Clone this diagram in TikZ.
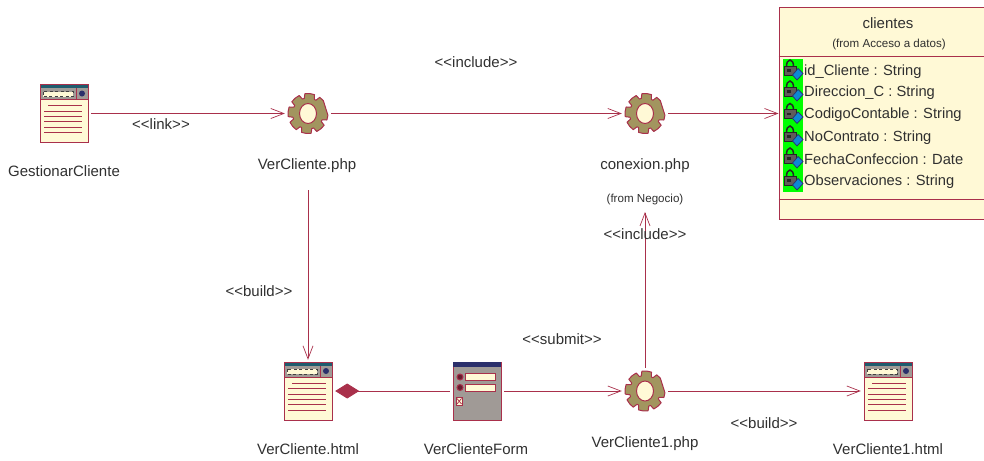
\documentclass[tikz,border=0pt]{standalone}
\usepackage{fontspec}
\setmainfont{Liberation Sans}
\usetikzlibrary{arrows.meta,positioning}
\definecolor{umlred}{HTML}{A9304B}
\definecolor{umlcream}{HTML}{FFF9D6}
\definecolor{umlolive}{HTML}{A2955F}
\definecolor{umlteal}{HTML}{1F5C6E}
\definecolor{umlnavy}{HTML}{2B2F6B}
\definecolor{umlgrey}{HTML}{A09A96}
\definecolor{umltext}{HTML}{303030}
\begin{document}
\begin{tikzpicture}[
    x=1pt, y=-1pt,
    element/.style={rectangle, inner sep=0pt, minimum width=54pt, minimum height=62pt},
    gearbox/.style={circle, inner sep=0pt, minimum size=46pt},
    name label/.style={inner sep=0pt, text=umltext, font=\fontsize{15}{17}\selectfont},
    attr label/.style={inner sep=0pt, text=umltext, font=\fontsize{14.7}{17}\selectfont},
    small label/.style={inner sep=0pt, text=umltext, font=\fontsize{11.6}{13}\selectfont},
    stereotype/.style={inner sep=0pt, text=umltext, font=\fontsize{15}{17}\selectfont},
    depend/.style={-{Straight Barb[length=13pt,width=10pt]}, umlred, line width=0.7pt},
    aggreg/.style={{Diamond[length=24pt,width=15pt]}-, umlred, line width=0.9pt},
    pics/gearicon/.style={code={
        \path[draw=umlred, fill=umlolive, line width=1pt, line join=round]
            (5:20)
            \foreach \a in {50,95,140,185,230,275,320} {
                -- (\a-31:20) -- (\a-26:15.5) -- (\a-19:15.5) -- (\a-14:20) -- (\a:20)
            } -- (5:20) -- cycle;
        \path[draw=umlred, fill=umlcream, line width=1pt] (0,0) ellipse (8.5 and 10);
    }},
    pics/pageicon/.style={code={
        \path[draw=umlred, fill=umlcream, line width=1pt] (-24,-29) rectangle (24,29);
        \path[fill=umlteal] (-23.5,-28.5) rectangle (23.5,-25.5);
        \path[fill=umlgrey] (-23.5,-25.5) rectangle (23.5,-14);
        \path[fill=umlcream, draw=black!75, line width=0.8pt, dash pattern=on 3pt off 2.5pt] (-21,-22) rectangle (9,-17);
        \path[draw=umlred, line width=0.7pt] (12,-25.5) -- (12,-14) (-24,-14) -- (24,-14);
        \path[fill=umlnavy] (18,-20) circle (3);
        \path[draw=umlred, line width=0.9pt] (-16,-8) -- (18,-8) (-20,-2.5) -- (18,-2.5)
            (-20,3) -- (18,3) (-20,8) -- (18,8) (-20,13.5) -- (18,13.5) (-20,19) -- (18,19);
    }},
    pics/formicon/.style={code={
        \path[draw=umlred, fill=umlgrey, line width=1pt] (-24,-29) rectangle (24,29);
        \path[fill=umlnavy] (-24,-29) rectangle (24,-24);
        \foreach \y in {-14,-3.5} {
            \path[draw=umlred, fill=umlred!60!black, line width=1pt] (-17,\y) circle (3);
            \path[draw=umlred, fill=umlcream, line width=1pt] (-11.5,\y-3.5) rectangle (18,\y+3.5);
        }
        \path[draw=umlred, fill=umlcream, line width=1pt] (-21,6.5) rectangle (-14.5,14);
        \path[draw=umlred, line width=0.7pt] (-20,7.5) -- (-15.5,13) (-15.5,7.5) -- (-20,13);
    }},
    pics/lockicon/.style={code={
        \path[draw=black!85, line width=1.5pt] (-3.5,0) arc (180:360:3.5 and 6);
        \path[draw=black!85, fill=umlgrey!60!black, line width=0.9pt] (-6,0) rectangle (6,9);
        \path[fill=black!85] (-3,3) rectangle (1,5.5);
        \path[draw=umlnavy, fill=cyan!70!blue, line width=0.7pt] (8,2.5) -- (13,7.5) -- (7,14) -- (2.5,9) -- cycle;
    }}
]
\useasboundingbox (0,0) rectangle (984,460);

% Class box
\node[rectangle, inner sep=0pt, minimum width=212pt, minimum height=211pt,
      draw=umlred, fill=umlcream, line width=1pt] (clientes) at (885,113.5) {};
\draw[umlred, line width=0.8pt] (clientes.west |- 0,56) -- (clientes.east |- 0,56);
\draw[umlred, line width=0.8pt] (clientes.west |- 0,199) -- (clientes.east |- 0,199);
\node[name label] (clientesName) at (888,23) {clientes};
\node[small label] (clientesFrom) at (889,44) {(from Acceso a datos)};
\fill[green] (783,59) rectangle (803,192);
\foreach \y/\attr in {70/id\_Cliente : String, 91/Direccion\_C : String, 113.5/CodigoContable : String,
                      136/NoContrato : String, 158/FechaConfeccion : Date, 180/Observaciones : String} {
    \pic at (790,\y-4) {lockicon};
    \node[attr label, anchor=west] at (804,\y+1.5) {\attr};
}

% Elements
\node[element] (GestionarCliente) at (64,113.5) {};
\node[gearbox] (VerClientePhp) at (308,113.5) {};
\node[gearbox] (conexionPhp) at (645,113.5) {};
\node[element] (VerClienteHtml) at (308,391) {};
\node[element] (VerClienteForm) at (477,391) {};
\node[gearbox] (VerCliente1Php) at (645,391) {};
\node[element] (VerCliente1Html) at (888,391) {};
\pic at (GestionarCliente) {pageicon};
\pic at (VerClientePhp) {gearicon};
\pic at (conexionPhp) {gearicon};
\pic at (VerClienteHtml) {pageicon};
\pic at (VerClienteForm) {formicon};
\pic at (VerCliente1Php) {gearicon};
\pic at (VerCliente1Html) {pageicon};

% Names
\node[name label] (lblGestionar) at (64,171) {GestionarCliente};
\node[name label] (lblVerPhp) at (307,166) {VerCliente.php};
\node[name label] (lblConexion) at (645,166) {conexion.php};
\node[small label] (lblNegocio) at (645,199) {(from Negocio)};
\node[name label] (lblVerHtml) at (308,449) {VerCliente.html};
\node[name label] (lblForm) at (476,449) {VerClienteForm};
\node[name label] (lblVer1Php) at (645,444) {VerCliente1.php};
\node[name label] (lblVer1Html) at (888,449) {VerCliente1.html};

% Connectors
\draw[depend] (GestionarCliente) -- (VerClientePhp);
\draw[depend] (VerClientePhp) -- (conexionPhp);
\draw[depend] (conexionPhp) -- (clientes.west |- conexionPhp);
\draw[depend, shorten <=17pt] (VerClientePhp |- lblVerPhp.south) -- (VerClienteHtml);
\draw[aggreg] (VerClienteHtml) -- (VerClienteForm);
\draw[depend] (VerClienteForm) -- (VerCliente1Php);
\draw[depend] (VerCliente1Php) -- (lblNegocio.south |- 0,212);
\draw[depend] (VerCliente1Php) -- (VerCliente1Html);

% Stereotypes
\node[stereotype] (lblLink) at (161,124) {<{}<link>{}>};
\node[stereotype] (lblInclude) at (476,62) {<{}<include>{}>};
\node[stereotype] (lblBuild) at (259,291) {<{}<build>{}>};
\node[stereotype] (lblSubmit) at (562,339) {<{}<submit>{}>};
\node[stereotype] (lblInclude2) at (645,234) {<{}<include>{}>};
\node[stereotype] (lblBuild2) at (764,423) {<{}<build>{}>};
\end{tikzpicture}
\end{document}
